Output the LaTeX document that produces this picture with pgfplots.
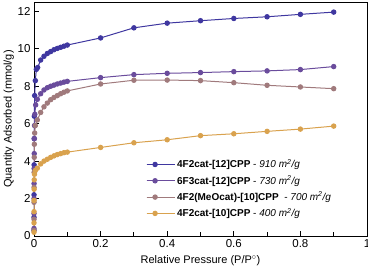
\documentclass[border=0pt]{standalone}
\usepackage{pgfplots}
\pgfplotsset{compat=1.18}
\usepackage{fontspec}
\setmainfont{Liberation Sans}
\definecolor{cblue}{HTML}{3F37A0}
\definecolor{cpurp}{HTML}{6A4C9C}
\definecolor{cbrown}{HTML}{A07A7C}
\definecolor{corange}{HTML}{D9A24E}
\begin{document}
\begin{tikzpicture}[x=1pt,y=1pt]
\begin{axis}[
  scale only axis, width=333pt, height=234pt,
  xmin=0, xmax=1, ymin=0, ymax=12.5,
  xtick={0,0.2,0.4,0.6,0.8,1}, xticklabels={0,0.2,0.4,0.6,0.8,1},
  minor xtick={0.1,0.3,0.5,0.7,0.9},
  ytick={0,2,4,6,8,10,12},
  tick pos=left, tick align=inside,
  major tick length=5pt, minor tick length=4pt,
  every tick/.style={black, line width=0.8pt},
  axis line style={line width=0.8pt},
  /pgf/number format/assume math mode=true,
  tick label style={font=\fontsize{11.5}{13}\selectfont},
  xlabel={Relative Pressure (P/P$^{\circ}$)},
  ylabel={Quantity Adsorbed (mmol/g)},
  label style={font=\fontsize{11}{13}\selectfont},
  xlabel style={yshift=-1pt},
  ylabel style={yshift=-3pt},
  every axis plot/.append style={line width=1pt, mark=*, mark size=2.2pt},
  legend style={at={(0.327,0.345)}, anchor=north west, draw=none, fill=none,
    font=\fontsize{10}{12}\selectfont, row sep=2.3pt},
  legend cell align=left,
  legend image code/.code={\draw[#1] (0pt,0pt) -- (17pt,0pt); \draw[#1, mark repeat=1] plot coordinates {(8.5pt,0pt)}; \path (0pt,0pt) -- (28pt,0pt);},
]
\addplot[color=cblue, mark options={fill=cblue}] coordinates {
(0.00001,0.3)(0.00003,1.0)(0.0001,2.2)(0.0003,3.8)(0.0006,5.2)(0.001,6.4)(0.002,7.5)(0.004,8.3)(0.007,8.9)(0.011,9.0)
(0.02,9.4)(0.03,9.6)(0.04,9.75)(0.05,9.85)(0.06,9.95)(0.07,10.02)(0.08,10.08)(0.09,10.14)(0.1,10.2)
(0.2,10.58)(0.3,11.12)(0.4,11.37)(0.5,11.5)(0.6,11.62)(0.7,11.71)(0.8,11.84)(0.9,11.96)};
\addlegendentry{\textbf{4F2cat-[12]CPP} - \textit{910 m\textsuperscript{2}/g}}
\addplot[color=cpurp, mark options={fill=cpurp}] coordinates {
(0.00001,0.4)(0.00003,1.2)(0.0001,2.0)(0.0002,2.8)(0.0004,3.6)(0.0007,4.4)(0.001,5.2)(0.0015,5.9)(0.0025,6.5)(0.005,7.0)(0.01,7.3)
(0.02,7.6)(0.03,7.8)(0.04,7.92)(0.05,8.0)(0.06,8.06)(0.07,8.12)(0.08,8.17)(0.09,8.22)(0.1,8.26)
(0.2,8.46)(0.3,8.62)(0.4,8.69)(0.5,8.73)(0.6,8.78)(0.7,8.82)(0.8,8.89)(0.9,9.05)};
\addlegendentry{\textbf{6F3cat-[12]CPP} - \textit{730 m\textsuperscript{2}/g}}
\addplot[color=cbrown, mark options={fill=cbrown}] coordinates {
(0.00001,0.3)(0.00003,0.9)(0.0001,1.8)(0.0002,2.6)(0.0004,3.4)(0.0007,4.2)(0.001,4.9)(0.002,5.5)(0.004,5.9)(0.01,6.2)
(0.02,6.6)(0.03,6.9)(0.04,7.1)(0.05,7.28)(0.06,7.4)(0.07,7.5)(0.08,7.6)(0.09,7.68)(0.1,7.75)
(0.2,8.12)(0.3,8.32)(0.4,8.33)(0.5,8.3)(0.6,8.19)(0.7,8.05)(0.8,7.96)(0.9,7.87)};
\addlegendentry{\textbf{4F2(MeOcat)-[10]CPP} \ - \textit{700 m\textsuperscript{2}/g}}
\addplot[color=corange, mark options={fill=corange}] coordinates {
(0.00001,0.2)(0.00003,0.7)(0.0001,1.3)(0.0002,1.9)(0.0004,2.5)(0.0007,3.0)(0.0015,3.3)(0.004,3.5)(0.01,3.62)
(0.02,3.85)(0.03,4.0)(0.04,4.1)(0.05,4.2)(0.06,4.28)(0.07,4.35)(0.08,4.4)(0.09,4.45)(0.1,4.48)
(0.2,4.73)(0.3,4.98)(0.4,5.14)(0.5,5.36)(0.6,5.46)(0.7,5.59)(0.8,5.71)(0.9,5.87)};
\addlegendentry{\textbf{4F2cat-[10]CPP} - \textit{400 m\textsuperscript{2}/g}}
\end{axis}
\pgfresetboundingbox
\path (-34pt,-36pt) rectangle (334pt,236pt);
\end{tikzpicture}
\end{document}
